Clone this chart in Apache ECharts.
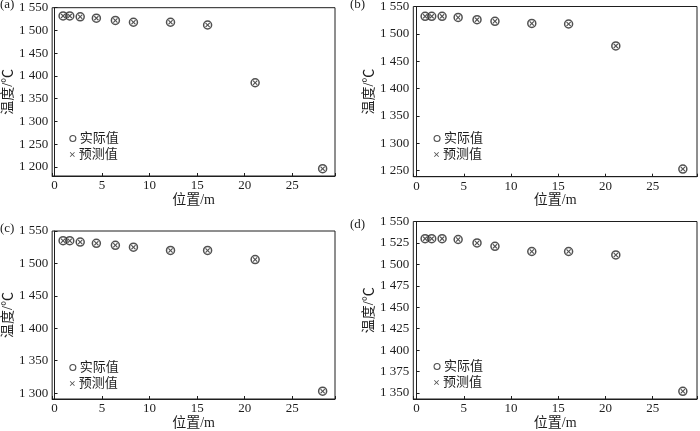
<!DOCTYPE html>
<html>
<head>
<meta charset="utf-8">
<script src="https://cdn.jsdelivr.net/npm/echarts@6/dist/echarts.min.js"></script>
<style>html,body{margin:0;padding:0;background:#fff}#c{width:700px;height:431px}</style>
</head>
<body>
<div id="c"></div>
<script>
// ---- data ----
const positions = [0.9, 1.6, 2.7, 4.4, 6.4, 8.3, 12.2, 16.1, 21.1, 28.2];
const actualA = [1532, 1532, 1530, 1527, 1522, 1518, 1518, 1512, 1385, 1196];
const predA   = [1532, 1532, 1530, 1527, 1522, 1518, 1518, 1512, 1385, 1196];
const actualB = [1532, 1532, 1532, 1530, 1526, 1523, 1519, 1518, 1478, 1253];
const predB   = [1532, 1532, 1532, 1530, 1526, 1523, 1519, 1518, 1478, 1253];
const actualC = [1535, 1535, 1533, 1531, 1528, 1525, 1520, 1520, 1506, 1303];
const predC   = [1535, 1535, 1533, 1531, 1528, 1525, 1520, 1520, 1506, 1303];
const actualD = [1530, 1530, 1530, 1529, 1525, 1521, 1515, 1515, 1511, 1352];
const predD   = [1530, 1530, 1530, 1529, 1525, 1521, 1515, 1515, 1511, 1352];
const xTicks = [0, 5, 10, 15, 20, 25];
const yTicksA = [1200, 1250, 1300, 1350, 1400, 1450, 1500, 1550];
const yTicksB = [1250, 1300, 1350, 1400, 1450, 1500, 1550];
const yTicksC = [1300, 1350, 1400, 1450, 1500, 1550];
const yTicksD = [1350, 1375, 1400, 1425, 1450, 1475, 1500, 1525, 1550];
const panelLabels = ['(a)', '(b)', '(c)', '(d)'];
const seriesNames = ['实际值', '预测值'];
const xName = '位置/m';
const yName = '温度/℃';

// ---- layout/style ----
const FONT = '"Liberation Serif", "Times New Roman", "Noto Sans CJK SC", serif';
const INK = '#1e1e1e';
const MARK = '#262626';
const panels = [
  {act: actualA, pred: predA, ticks: yTicksA, step: 50, ymin: 1180, ymax: 1550, xmin: -0.25, xmax: 29.5,
   grid: {left: 50, top: 7.7, width: 285, height: 168.3}, lab: [0, 1], leg: [72.3, 139], ynGap: 35},
  {act: actualB, pred: predB, ticks: yTicksB, step: 50, ymin: 1239, ymax: 1550, xmin: -0.35, xmax: 29.7,
   grid: {left: 413.3, top: 3.3, width: 285.7, height: 173.4}, lab: [350, 1], leg: [436.5, 139], ynGap: 37},
  {act: actualC, pred: predC, ticks: yTicksC, step: 50, ymin: 1291, ymax: 1550, xmin: -0.25, xmax: 29.5,
   grid: {left: 50, top: 231, width: 285, height: 170.7}, lab: [0, 225], leg: [72.3, 368], ynGap: 35},
  {act: actualD, pred: predD, ticks: yTicksD, step: 25, ymin: 1343, ymax: 1550, xmin: -0.35, xmax: 29.7,
   grid: {left: 413.3, top: 221.5, width: 285.7, height: 180.2}, lab: [350, 221], leg: [436.5, 367], ynGap: 37}
];
const fmtThousand = v => String(v).replace(/\B(?=(\d{3})+(?!\d))/g, ' ');
const crossPath = 'path://M0,1.6L1.6,0L5,3.4L8.4,0L10,1.6L6.6,5L10,8.4L8.4,10L5,6.6L1.6,10L0,8.4L3.4,5Z';
const thinCross = 'path://M0,1.2L1.2,0L5,3.8L8.8,0L10,1.2L6.2,5L10,8.8L8.8,10L5,6.2L1.2,10L0,8.8L3.8,5Z';

const option = {
  backgroundColor: '#fff',
  animation: false,
  textStyle: {fontFamily: FONT, color: INK},
  title: [], grid: [], xAxis: [], yAxis: [], series: [], legend: []
};
panels.forEach((p, i) => {
  option.title.push({text: panelLabels[i], left: p.lab[0], top: p.lab[1] - 3, padding: 0,
    textStyle: {fontFamily: FONT, fontSize: 13, fontWeight: 'normal', color: INK}});
  option.grid.push(Object.assign({show: true, borderColor: INK, borderWidth: 1, backgroundColor: 'transparent', containLabel: false}, p.grid));
  option.xAxis.push({
    type: 'value', gridIndex: i, min: p.xmin, max: p.xmax, minInterval: 5, maxInterval: 5,
    name: xName, nameLocation: 'middle', nameGap: 17,
    nameTextStyle: {fontFamily: FONT, fontSize: 14, color: INK},
    axisLine: {show: true, lineStyle: {color: INK, width: 1}},
    axisTick: {show: true, inside: true, length: 3, lineStyle: {color: INK}},
    axisLabel: {fontFamily: FONT, fontSize: 13, color: INK, margin: 3,
      formatter: v => xTicks.includes(Math.round(v * 1000) / 1000) ? String(v) : ''},
    splitLine: {show: false}
  });
  option.yAxis.push({
    type: 'value', gridIndex: i, min: p.ymin, max: p.ymax, minInterval: p.step, maxInterval: p.step,
    name: yName, nameLocation: 'middle', nameGap: p.ynGap,
    nameTextStyle: {fontFamily: FONT, fontSize: 14, color: INK},
    axisLine: {show: true, lineStyle: {color: INK, width: 1}},
    axisTick: {show: true, inside: true, length: 3, lineStyle: {color: INK}},
    axisLabel: {fontFamily: FONT, fontSize: 13, color: INK, margin: 4,
      formatter: v => p.ticks.includes(Math.round(v)) && Math.abs(v - Math.round(v)) < 1e-6 ? fmtThousand(v) : ''},
    splitLine: {show: false}
  });
  option.series.push({
    name: seriesNames[0], type: 'scatter', xAxisIndex: i, yAxisIndex: i,
    symbol: 'circle', symbolSize: 8,
    itemStyle: {color: 'transparent', borderColor: MARK, borderWidth: 1.5},
    data: positions.map((x, k) => [x, p.act[k]])
  });
  option.series.push({
    name: seriesNames[1], type: 'scatter', xAxisIndex: i, yAxisIndex: i,
    symbol: crossPath, symbolSize: 5,
    itemStyle: {color: MARK},
    data: positions.map((x, k) => [x, p.pred[k]])
  });
  option.legend.push({
    data: [seriesNames[0]], left: p.leg[0] - 3, top: p.leg[1] - 7, padding: 0,
    itemWidth: 6, itemHeight: 6, itemGap: 0, selectedMode: false,
    itemStyle: {color: 'transparent', borderColor: MARK, borderWidth: 1.1},
    textStyle: {fontFamily: FONT, fontSize: 13, color: INK, padding: [0, 0, 0, -1]}
  });
  option.legend.push({
    data: [{name: seriesNames[1], icon: thinCross}], left: p.leg[0] - 2.5, top: p.leg[1] + 16 - 7, padding: 0,
    itemWidth: 5, itemHeight: 5, itemGap: 0, selectedMode: false,
    textStyle: {fontFamily: FONT, fontSize: 13, color: INK, padding: [0, 0, 0, -1]}
  });
});
const chart = echarts.init(document.getElementById('c'), null, {renderer: 'canvas'});
chart.setOption(option);
</script>
</body>
</html>
